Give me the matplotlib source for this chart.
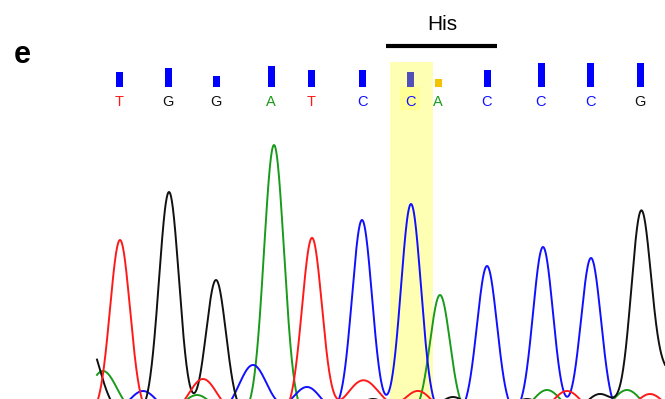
import numpy as np
import matplotlib
matplotlib.use("Agg")
from matplotlib import pyplot as plt

plt.rcParams['font.family'] = ['Liberation Sans', 'DejaVu Sans']

# base calls
bases = ['T', 'G', 'G', 'A', 'T', 'C', 'C', 'A', 'C', 'C', 'C', 'G']
base_pos = [119, 168, 216, 271, 311, 362, 410, 438, 487, 541, 590, 640]
quality = [15, 19, 11, 21, 17, 17, 15, 8, 17, 24, 24, 24]

# main peaks: position, height, channel
peak_pos = [120, 169, 216, 274, 312, 362, 411, 440, 487, 543, 591, 641]
peak_h = [175, 223, 135, 270, 177, 195, 211, 120, 149, 168, 157, 198]
peak_ch = ['T', 'G', 'G', 'A', 'T', 'C', 'C', 'A', 'C', 'C', 'C', 'G']

# small background peaks
bg_pos = [85, 103, 143, 203, 197, 253, 307, 357, 373, 372, 418, 453, 527, 547, 567, 600, 627, 650, 668]
bg_h = [80, 44, 24, 36, 20, 50, 28, 22, 16, 18, 24, 18, 16, 25, 24, 21, 25, 21, 40]
bg_ch = ['G', 'A', 'C', 'T', 'A', 'C', 'C', 'T', 'G', 'T', 'T', 'G', 'G', 'A', 'T', 'G', 'A', 'T', 'G']

colors = {'A': '#1a9a1a', 'C': '#1010ff', 'G': '#111111', 'T': '#ff1a1a'}
qual_colors = ['#0000ff'] * 12
qual_colors[6] = '#5050b8'
qual_colors[7] = '#f2c400'

top = 415  # signal value at the top edge of the figure
fig = plt.figure(figsize=(6.65, 3.99), dpi=100)
ax = fig.add_axes([0, 0, 1, 1])
ax.set_xlim(0, 665)
ax.set_ylim(top - 399, top)
ax.axis('off')

x = np.linspace(97, 670, 3000)
sig = 10.0
for ch in ['A', 'C', 'G', 'T']:
    y = np.zeros_like(x)
    for p, h, c in zip(peak_pos, peak_h, peak_ch):
        if c == ch:
            y += h * np.exp(-0.5 * ((x - p) / sig) ** 2)
    for p, h, c in zip(bg_pos, bg_h, bg_ch):
        if c == ch:
            y += h * np.exp(-0.5 * ((x - p) / (sig * 1.4)) ** 2)
    ax.plot(x, y, color=colors[ch], lw=1.4, zorder=3)

# highlighted codon position
ax.axvspan(390, 433, ymin=0, ymax=(399 - 62) / 399, color='#ffffb4', zorder=1, lw=0)
ax.add_patch(plt.Rectangle((400, top - 110), 20, 23, color='#ffff96', zorder=1, lw=0))

# quality bars and base letters
bar_base = top - 87
for b, xp, q, qc in zip(bases, base_pos, quality, qual_colors):
    ax.bar(xp, q, width=7, bottom=bar_base, color=qc, zorder=2)
    ax.text(xp, top - 102, b, color=colors[b], fontsize=10.5, ha='center', va='center', zorder=4)

ax.text(442, top - 25, 'His', fontsize=15, ha='center', va='center')
ax.plot([386, 497], [top - 46, top - 46], color='black', lw=3, solid_capstyle='butt')
ax.text(22, top - 55, 'e', fontsize=22, fontweight='bold', ha='center', va='center')

fig.savefig('out.png', dpi=100)
